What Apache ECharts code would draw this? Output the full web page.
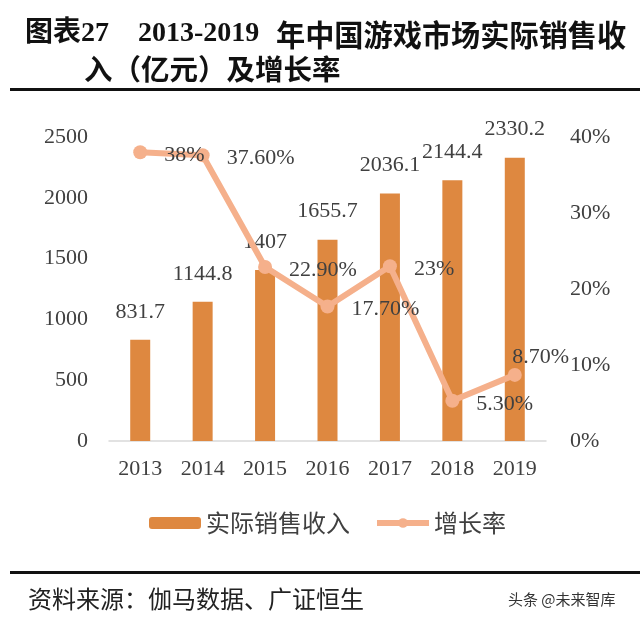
<!DOCTYPE html>
<html><head><meta charset="utf-8">
<script src="https://cdn.jsdelivr.net/npm/echarts@6/dist/echarts.min.js"></script>
<style>html,body{margin:0;padding:0;background:#fff}#c{width:640px;height:623px}</style>
</head><body><div id="c"></div>
<script>
const years = ['2013','2014','2015','2016','2017','2018','2019'];
const revenue = [831.7, 1144.8, 1407, 1655.7, 2036.1, 2144.4, 2330.2];
const growth = [38, 37.6, 22.9, 17.7, 23, 5.3, 8.7];
const leftTicks = {min: 0, max: 2500, interval: 500};
const rightTicks = {min: 0, max: 40, interval: 10};

const serif = "'Liberation Serif','Noto Sans CJK SC',serif";
const cjk = "'Noto Sans CJK SC','Liberation Serif',sans-serif";
const txt = '#404040';
const chart = echarts.init(document.getElementById('c'));
const fmtPct = v => (Number.isInteger(v) ? v : v.toFixed(2)) + '%';

chart.setOption({
  animation: false,
  grid: {left: 109, right: 94, top: 137, bottom: 182, containLabel: false},
  legend: {
    top: 506, left: 144, itemGap: 24,
    itemWidth: 52, itemHeight: 12,
    textStyle: {fontFamily: cjk, fontSize: 24, color: txt},
    data: [
      {name: '实际销售收入'},
      {name: '增长率', lineStyle: {width: 6, color: '#F5B08B'}, itemStyle: {color: '#F5B08B'}}
    ]
  },
  xAxis: {
    type: 'category', data: years,
    axisLine: {lineStyle: {color: '#D9D9D9', width: 1.5}},
    axisTick: {show: false},
    axisLabel: {fontFamily: serif, fontSize: 22, color: txt, margin: 17}
  },
  yAxis: [
    {type: 'value', min: leftTicks.min, max: leftTicks.max, interval: leftTicks.interval,
     splitLine: {show: false}, axisLine: {show: false}, axisTick: {show: false},
     axisLabel: {fontFamily: serif, fontSize: 22, color: txt, margin: 21, formatter: v => String(v)}},
    {type: 'value', min: rightTicks.min, max: rightTicks.max, interval: rightTicks.interval,
     splitLine: {show: false}, axisLine: {show: false}, axisTick: {show: false},
     axisLabel: {fontFamily: serif, fontSize: 22, color: txt, margin: 24, formatter: '{value}%'}}
  ],
  series: [
    {name: '实际销售收入', type: 'bar', data: revenue, barWidth: 20,
     itemStyle: {color: '#DE8840'},
     label: {show: true, position: 'top', distance: 17, fontFamily: serif, fontSize: 22, color: txt}},
    {name: '增长率', type: 'line', yAxisIndex: 1,
     data: growth.map((v, i) => i === growth.length - 1 ?
       {value: v, label: {position: 'top', offset: [26, 8], distance: 8}} : v),
     symbol: 'circle', symbolSize: 14,
     lineStyle: {color: '#F5B08B', width: 6},
     itemStyle: {color: '#F5B08B'},
     label: {show: true, position: 'right', distance: 17, offset: [0, 3], fontFamily: serif, fontSize: 22, color: txt,
       formatter: p => fmtPct(p.value)}}
  ],
  graphic: [
    {type: 'text', left: 25, top: 20, style: {text: '图表27', fontFamily: serif, fontWeight: 'bold', fontSize: 28, fill: '#111'}},
    {type: 'text', left: 138, top: 20, style: {text: '2013-2019', fontFamily: serif, fontWeight: 'bold', fontSize: 28, fill: '#111'}},
    {type: 'text', left: 276, top: 20, style: {text: '年中国游戏市场实际销售收', fontFamily: cjk, fontWeight: 'bold', fontSize: 29.2, fill: '#111'}},
    {type: 'text', left: 84, top: 55, style: {text: '入（亿元）及增长率', fontFamily: cjk, fontWeight: 'bold', fontSize: 28.5, fill: '#111'}},
    {type: 'rect', shape: {x: 10, y: 88, width: 630, height: 3}, style: {fill: '#111'}},
    {type: 'rect', shape: {x: 10, y: 571, width: 630, height: 3}, style: {fill: '#111'}},
    {type: 'text', left: 28, top: 587, style: {text: '资料来源：伽马数据、广证恒生', fontFamily: cjk, fontSize: 24, fill: '#222'}},
    {type: 'text', left: 508, top: 592, style: {text: '头条 @未来智库', fontFamily: cjk, fontSize: 15, fill: '#333'}}
  ]
});
</script></body></html>
